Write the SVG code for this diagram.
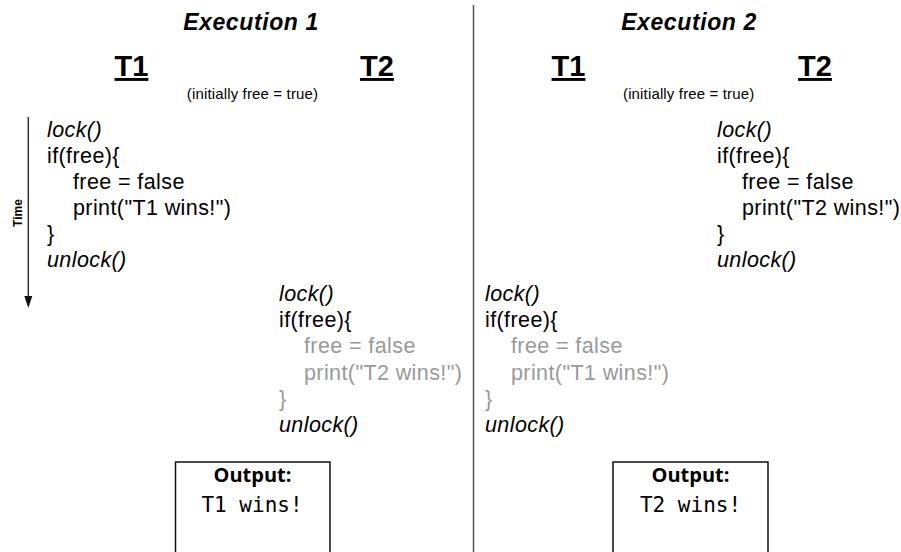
<svg xmlns="http://www.w3.org/2000/svg" width="901" height="552" viewBox="0 0 901 552">
  <style>
    .title { font-family: "Liberation Sans", Arial, sans-serif; font-size: 23px; font-weight: bold; font-style: italic; letter-spacing: 0.6px; text-anchor: middle; fill: #000; }
    .thread { font-family: "Liberation Sans", Arial, sans-serif; font-size: 29px; font-weight: bold; text-decoration: underline; text-anchor: middle; fill: #000; }
    .note { font-family: "Liberation Sans", Arial, sans-serif; font-size: 15px; letter-spacing: 0.15px; text-anchor: middle; fill: #000; }
    .code { font-family: "Liberation Sans", Arial, sans-serif; font-size: 21.5px; letter-spacing: 0.4px; fill: #000; }
    .call { font-style: italic; }
    .dim { fill: #999999; }
    .axis { font-family: "Liberation Sans", Arial, sans-serif; font-size: 12px; font-weight: bold; text-anchor: middle; fill: #000; }
    .box { fill: #ffffff; stroke: #111111; stroke-width: 1.5; }
    .out-head { font-family: "Open Sans", "Noto Sans", sans-serif; font-size: 20px; font-weight: bold; text-anchor: middle; fill: #000; }
    .out-body { font-family: "DejaVu Sans Mono", "Liberation Mono", monospace; font-size: 21px; text-anchor: middle; fill: #000; }
    .rule { stroke: #555555; stroke-width: 1.5; fill: none; }
    .timeline { stroke: #333333; stroke-width: 1.5; fill: none; }
  </style>
  <defs>
    <!-- solid triangular head for the time axis -->
    <marker id="arrowhead" markerUnits="userSpaceOnUse" markerWidth="12" markerHeight="8" refX="0" refY="4" orient="auto" overflow="visible">
      <path d="M0,0 L12,4 L0,8 Z" fill="#111111"/>
    </marker>
  </defs>

  <rect x="0" y="0" width="901" height="552" fill="#ffffff"/>

  <!-- divider between the two executions, and the time axis -->
  <g id="connectors">
    <line class="rule" x1="473.5" y1="5" x2="473.5" y2="552"/>
    <line class="timeline" x1="28.3" y1="117" x2="28.3" y2="296" marker-end="url(#arrowhead)"/>
  </g>

  <g id="time-label">
    <text class="axis" transform="translate(21.5,213) rotate(-90)">Time</text>
  </g>

  <!-- Execution 1 -->
  <g id="exec1-header">
    <text class="title" x="251" y="30">Execution 1</text>
    <text class="thread" x="131.5" y="76">T1</text>
    <text class="thread" x="377" y="76">T2</text>
    <text class="note" x="252.5" y="99">(initially free = true)</text>
  </g>

  <g id="exec1-t1">
    <text class="code call" x="47" y="137">lock()</text>
    <text class="code" x="47" y="163">if(free){</text>
    <text class="code" x="73" y="189">free = false</text>
    <text class="code" x="73" y="215">print("T1 wins!")</text>
    <text class="code" x="47" y="241">}</text>
    <text class="code call" x="47" y="267">unlock()</text>
  </g>

  <g id="exec1-t2">
    <text class="code call" x="279" y="300.5">lock()</text>
    <text class="code" x="279" y="327">if(free){</text>
    <text class="code dim" x="304" y="353.3">free = false</text>
    <text class="code dim" x="304" y="379.5">print("T2 wins!")</text>
    <text class="code dim" x="279" y="405.7">}</text>
    <text class="code call" x="279" y="432">unlock()</text>
  </g>

  <g id="exec1-output">
    <rect class="box" x="175.5" y="462" width="154.5" height="110"/>
    <text class="out-head" x="252.5" y="482">Output:</text>
    <text class="out-body" x="252" y="512">T1 wins!</text>
  </g>

  <!-- Execution 2 -->
  <g id="exec2-header">
    <text class="title" x="689" y="30">Execution 2</text>
    <text class="thread" x="568.5" y="76">T1</text>
    <text class="thread" x="815" y="76">T2</text>
    <text class="note" x="688.7" y="99">(initially free = true)</text>
  </g>

  <g id="exec2-t2">
    <text class="code call" x="717" y="137">lock()</text>
    <text class="code" x="717" y="163">if(free){</text>
    <text class="code" x="742" y="189">free = false</text>
    <text class="code" x="742" y="215">print("T2 wins!")</text>
    <text class="code" x="717" y="241">}</text>
    <text class="code call" x="717" y="267">unlock()</text>
  </g>

  <g id="exec2-t1">
    <text class="code call" x="485" y="300.5">lock()</text>
    <text class="code" x="485" y="327">if(free){</text>
    <text class="code dim" x="511" y="353.3">free = false</text>
    <text class="code dim" x="511" y="379.5">print("T1 wins!")</text>
    <text class="code dim" x="485" y="405.7">}</text>
    <text class="code call" x="485" y="432">unlock()</text>
  </g>

  <g id="exec2-output">
    <rect class="box" x="613" y="462" width="155" height="110"/>
    <text class="out-head" x="690.5" y="482">Output:</text>
    <text class="out-body" x="690.5" y="512">T2 wins!</text>
  </g>
</svg>
